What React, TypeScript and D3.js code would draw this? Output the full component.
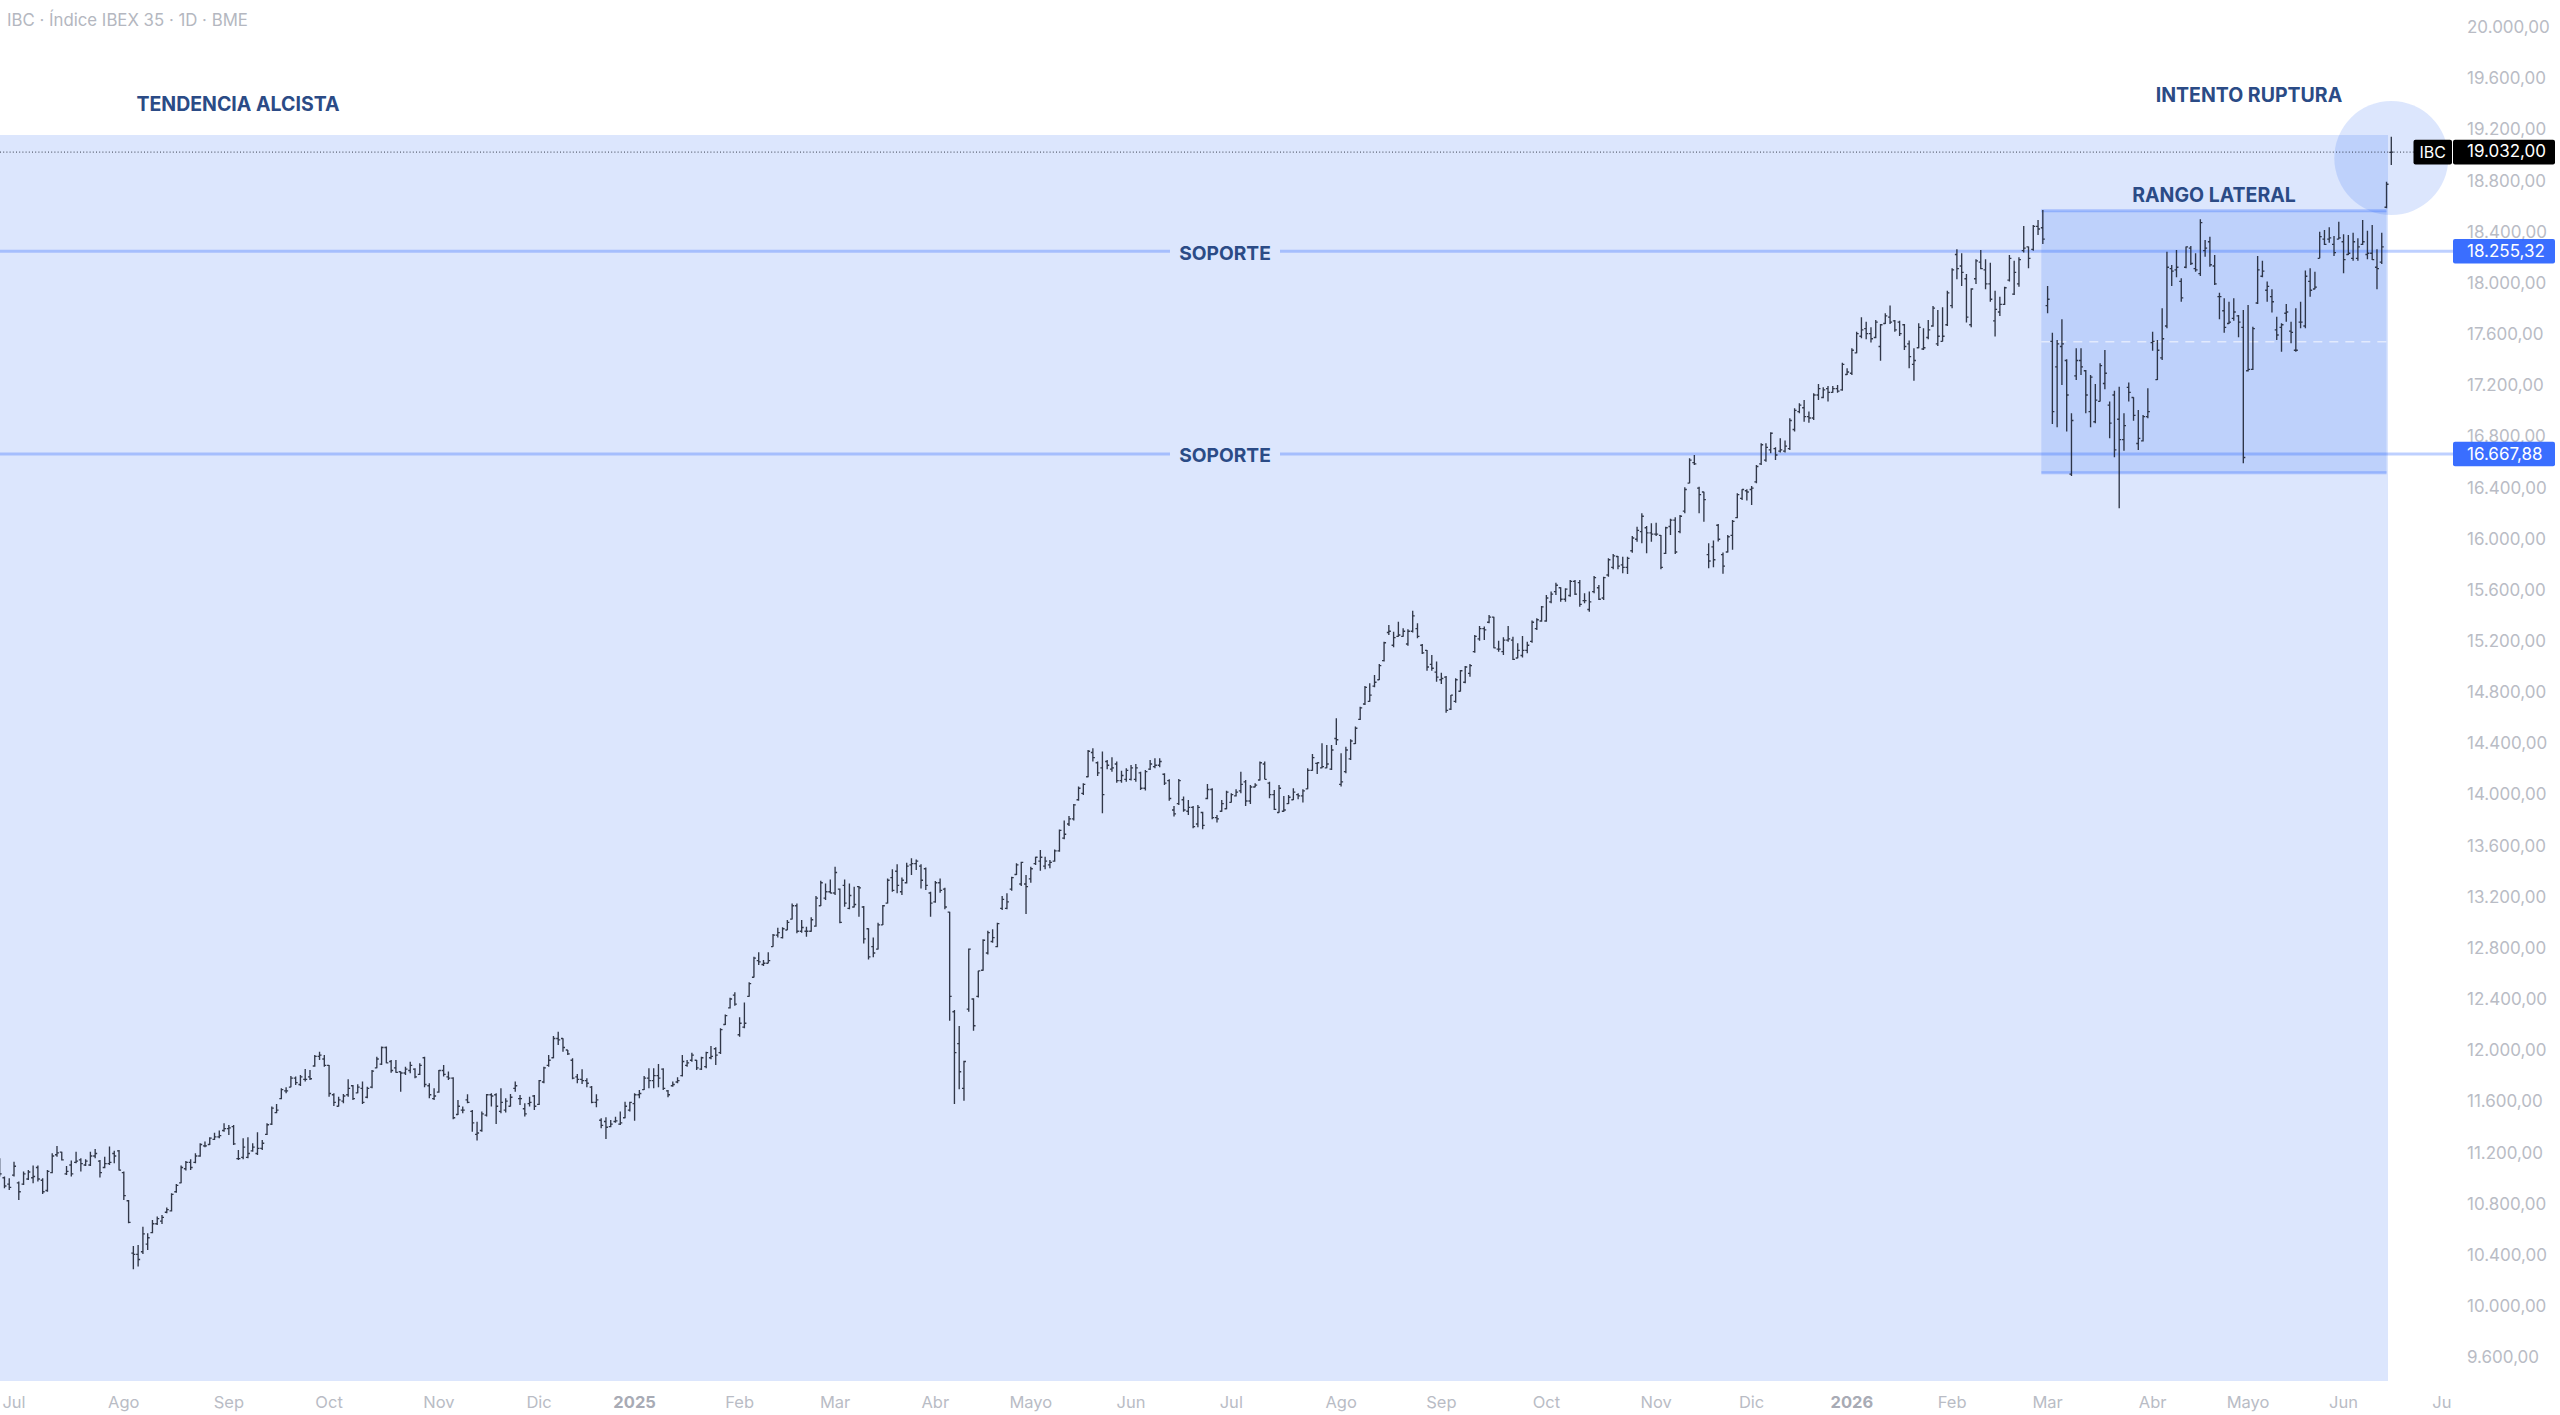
import * as d3 from "d3";

type Bar = number[]; // open, high, low, close

const jun24: Bar[] = [[11130,11152,11009,11030],[11000,11009,10917,10935],[10950,10996,10904,10925]];
const jul24: Bar[] = [
[11020,11126,11009,11090],[10960,10970,10826,10890],[10950,11048,10943,11030],[10990,11061,10983,11045],[11000,11095,10957,11010],[11080,11095,10970,10990],[10980,10996,10873,10890],[10900,11061,10891,11050],[11040,11191,11035,11170],[11180,11249,11165,11195],[11200,11204,11134,11140],[11030,11092,11022,11050],[11100,11134,11009,11030],[11120,11204,11113,11130],[11140,11152,11048,11110],[11100,11144,11092,11130],[11100,11204,11092,11170],[11170,11225,11152,11190],[11130,11139,11001,11040],[11080,11165,11074,11110],[11110,11244,11100,11120],[11190,11212,11113,11170],[11210,11217,11056,11060]];
const ago24: Bar[] = [
[11040,11048,10826,10860],[10820,10826,10643,10650],[10410,10466,10283,10400],[10400,10474,10304,10360],[10420,10617,10403,10560],[10480,10565,10434,10530],[10570,10669,10565,10640],[10640,10696,10630,10680],[10660,10709,10638,10690],[10730,10766,10722,10750],[10740,10878,10735,10870],[10890,10951,10883,10940],[10960,11095,10957,11080],[11070,11131,11056,11120],[11120,11144,11061,11080],[11120,11191,11113,11170],[11170,11270,11165,11260],[11250,11283,11238,11250],[11260,11317,11257,11310],[11300,11353,11296,11320],[11320,11369,11309,11330],[11370,11426,11361,11385]];
const sep24: Bar[] = [
[11385,11413,11335,11390],[11400,11413,11257,11265],[11150,11217,11139,11150],[11160,11309,11144,11240],[11160,11317,11152,11190],[11210,11270,11204,11240],[11190,11356,11178,11230],[11230,11296,11217,11270],[11340,11426,11335,11415],[11420,11557,11413,11545],[11510,11578,11505,11530],[11620,11700,11614,11690],[11680,11708,11661,11680],[11710,11797,11708,11780],[11780,11792,11726,11745],[11730,11805,11719,11790],[11770,11852,11753,11770],[11790,11844,11766,11775],[11875,11961,11870,11950],[11950,11987,11922,11960],[11930,11961,11870,11880]];
const oct24: Bar[] = [
[11880,11883,11635,11660],[11650,11661,11562,11590],[11560,11635,11557,11610],[11600,11656,11583,11640],[11650,11771,11635,11700],[11720,11726,11609,11620],[11665,11732,11661,11710],[11700,11753,11578,11590],[11630,11713,11622,11700],[11710,11844,11700,11835],[11860,11948,11857,11930],[11890,12027,11883,12020],[12020,12027,11896,11900],[11910,11922,11823,11840],[11860,11922,11823,11825],[11830,11831,11674,11820],[11820,11870,11805,11850],[11840,11909,11818,11880],[11850,11857,11779,11790],[11810,11896,11805,11880],[11940,11948,11708,11730],[11720,11740,11622,11650],[11620,11700,11609,11640]];
const nov24: Bar[] = [
[11670,11844,11666,11840],[11840,11883,11792,11810],[11790,11831,11766,11780],[11780,11786,11458,11470],[11495,11609,11492,11560],[11530,11557,11505,11530],[11610,11653,11583,11590],[11520,11531,11361,11430],[11340,11439,11291,11350],[11370,11518,11361,11500],[11490,11656,11479,11650],[11650,11661,11557,11640],[11650,11661,11421,11560],[11520,11700,11505,11590],[11530,11622,11510,11600],[11560,11656,11557,11630],[11700,11753,11674,11720],[11620,11648,11570,11620],[11540,11583,11479,11500],[11580,11635,11557,11590],[11640,11648,11531,11560]];
const dic24: Bar[] = [
[11575,11766,11570,11760],[11750,11870,11740,11860],[11880,11961,11870,11920],[11940,12110,11935,12090],[12090,12144,12040,12080],[12090,12092,11987,12020],[12000,12000,11961,11970],[11920,11935,11771,11780],[11790,11813,11740,11770],[11770,11849,11734,11760],[11760,11779,11708,11740],[11710,11719,11583,11590],[11590,11653,11552,11610],[11450,11465,11387,11410],[11440,11473,11304,11395],[11400,11452,11395,11420],[11440,11478,11431,11445],[11420,11518,11413,11430],[11470,11596,11465,11560],[11530,11596,11518,11590]];
const ene25: Bar[] = [
[11580,11661,11447,11650],[11650,11687,11622,11660],[11690,11797,11687,11780],[11780,11857,11700,11760],[11760,11857,11700,11800],[11800,11891,11708,11780],[11850,11857,11687,11700],[11680,11687,11630,11650],[11720,11753,11713,11730],[11750,11786,11740,11760],[11800,11961,11792,11910],[11880,11922,11870,11900],[11920,11979,11909,11960],[11920,11922,11844,11860],[11850,11948,11844,11940],[11870,11987,11857,11980],[11940,12031,11927,11950],[12010,12021,11883,11960],[11980,12170,11969,12160],[12200,12279,12196,12270],[12330,12410,12326,12400],[12430,12452,12347,12360]];
const feb25: Bar[] = [
[12120,12256,12104,12210],[12180,12373,12170,12210],[12420,12530,12418,12520],[12570,12731,12569,12720],[12700,12765,12666,12690],[12670,12705,12658,12680],[12680,12765,12679,12700],[12810,12908,12809,12900],[12900,12958,12882,12920],[12880,12961,12874,12950],[12940,13018,12940,13000],[13025,13148,13023,13130],[13130,13148,12914,12930],[12930,13018,12919,12960],[12930,12966,12887,12930],[12930,13039,12927,13020],[12970,13206,12966,13190],[13130,13326,13128,13310],[13190,13305,13175,13240],[13240,13336,13227,13230]];
const mar25: Bar[] = [
[13230,13436,13214,13390],[13260,13266,12992,13000],[13290,13336,13122,13150],[13110,13305,13102,13210],[13120,13279,13117,13140],[13280,13284,13044,13270],[13120,13128,12835,12870],[12950,12953,12710,12730],[12810,12882,12726,12760],[12790,12997,12788,12980],[12980,13135,12979,13130],[13150,13344,13148,13330],[13350,13415,13240,13250],[13400,13454,13227,13290],[13240,13352,13214,13330],[13310,13467,13305,13440],[13450,13501,13370,13460],[13460,13493,13410,13480],[13440,13454,13266,13330],[13420,13430,13253,13290],[13230,13240,13044,13150]];
const abr25: Bar[] = [
[13160,13323,13154,13310],[13310,13344,13232,13250],[13260,13271,13102,13120],[13080,13083,12230,12420],[12300,12313,11577,11980],[12050,12188,11692,11830],[11700,11917,11603,11910],[12320,12796,12300,12790],[12400,12405,12151,12190],[12420,12621,12412,12620],[12625,12867,12621,12860],[12760,12935,12749,12920],[12850,12945,12841,12880],[12810,12997,12804,12990],[13110,13206,13096,13180],[13110,13227,13102,13160],[13260,13357,13248,13350],[13375,13462,13370,13450],[13300,13475,13284,13470],[13300,13370,13065,13280]];
const may25: Bar[] = [
[13340,13436,13310,13420],[13460,13514,13449,13510],[13480,13566,13404,13510],[13440,13514,13415,13480],[13450,13488,13423,13470],[13480,13571,13475,13560],[13560,13728,13553,13720],[13660,13797,13650,13690],[13770,13833,13755,13810],[13810,13927,13797,13920],[13960,14063,13953,14050],[14010,14089,13998,14080],[14140,14350,14136,14340],[14330,14363,14259,14290],[14250,14259,14146,14170],[14210,14337,13854,14000],[14260,14272,14199,14230],[14200,14293,14180,14210],[14240,14259,14094,14110],[14110,14188,14094,14150],[14120,14206,14102,14190]];
const jun25: Bar[] = [
[14120,14232,14110,14210],[14120,14240,14102,14210],[14170,14180,14037,14050],[14050,14193,14032,14180],[14200,14272,14193,14240],[14220,14285,14206,14230],[14230,14285,14214,14260],[14160,14167,14076,14090],[14110,14120,13953,13970],[13880,13911,13828,13850],[13930,14123,13919,14110],[13960,13985,13867,13880],[13870,13958,13841,13900],[13900,13911,13737,13750],[13770,13919,13744,13900],[13860,13867,13729,13760],[13970,14084,13964,14040],[14040,14050,13807,13820],[13820,13841,13781,13810],[13870,13958,13867,13930],[13890,14031,13885,14020]];
const jul25: Bar[] = [
[13940,14011,13938,14000],[13990,14042,13985,14020],[14030,14180,14011,14080],[14100,14115,13911,13950],[13950,14076,13927,14060],[14060,14089,14058,14075],[14115,14259,14110,14250],[14240,14259,14120,14120],[14090,14102,13971,14000],[14000,14037,13880,13885],[13860,14076,13859,14050],[13870,13990,13867,13880],[13930,13998,13927,13980],[13960,14050,13958,14020],[14000,14011,13964,13990],[13990,14042,13938,14030],[14045,14206,14042,14190],[14190,14319,14188,14290],[14245,14251,14162,14250],[14210,14402,14206,14220],[14210,14389,14206,14240],[14200,14389,14193,14350],[14440,14598,14389,14430]];
const ago25: Bar[] = [
[14080,14324,14063,14100],[14180,14376,14167,14350],[14280,14433,14272,14420],[14400,14533,14397,14520],[14590,14689,14585,14680],[14710,14851,14702,14840],[14730,14872,14728,14780],[14850,14937,14841,14880],[14900,15023,14898,15010],[15050,15198,15042,15190],[15270,15329,15250,15280],[15170,15276,15154,15230],[15240,15355,15237,15250],[15240,15303,15237,15280],[15180,15295,15167,15280],[15280,15441,15269,15400],[15300,15342,15224,15240],[15170,15180,15102,15110],[15130,15133,14971,15000],[15020,15094,14971,14990],[14960,15042,14885,14920]];
const sep25: Bar[] = [
[14900,14955,14867,14910],[14920,14929,14642,14660],[14670,14781,14663,14780],[14730,14911,14720,14900],[14810,14976,14807,14970],[14880,15008,14872,15000],[14950,15023,14924,15010],[15120,15250,15112,15240],[15220,15321,15206,15300],[15300,15316,15211,15290],[15350,15407,15342,15390],[15390,15394,15146,15150],[15140,15206,15120,15140],[15120,15232,15094,15210],[15210,15321,15198,15220],[15210,15237,15055,15060],[15070,15185,15068,15130],[15090,15243,15075,15130],[15130,15198,15107,15170],[15200,15363,15190,15350],[15300,15381,15289,15370],[15360,15477,15355,15470]];
const oct25: Bar[] = [
[15360,15564,15355,15540],[15510,15590,15498,15570],[15590,15660,15564,15640],[15620,15624,15511,15530],[15530,15616,15511,15610],[15560,15681,15550,15670],[15670,15681,15564,15570],[15660,15681,15472,15490],[15520,15577,15498,15520],[15450,15590,15433,15510],[15590,15713,15577,15700],[15620,15642,15525,15530],[15540,15707,15525,15700],[15720,15851,15707,15840],[15780,15885,15765,15870],[15865,15869,15765,15790],[15800,15864,15733,15780],[15780,15864,15728,15850],[15910,16026,15895,16010],[16000,16099,15981,16070],[16060,16203,15968,16180],[16090,16104,15890,16050],[16050,16125,15981,16040]];
const nov25: Bar[] = [
[16040,16130,16026,16040],[16030,16033,15765,15780],[15890,16099,15885,16090],[16100,16161,16033,16150],[16150,16172,15885,15900],[16060,16190,16047,16180],[16220,16407,16203,16390],[16440,16634,16438,16620],[16600,16660,16582,16590],[16400,16412,16203,16350],[16370,16373,16138,16310],[15880,15969,15773,15830],[15940,15990,15781,15840],[16110,16120,15982,16000],[15880,15896,15729,15790],[15900,16034,15896,16020],[16030,16151,15917,16140],[16170,16360,16164,16350],[16320,16392,16308,16390],[16380,16392,16303,16370]];
const dic25: Bar[] = [
[16390,16418,16269,16400],[16450,16582,16439,16570],[16590,16752,16582,16740],[16620,16752,16608,16720],[16700,16838,16673,16830],[16710,16720,16621,16660],[16690,16791,16679,16700],[16690,16773,16679,16730],[16710,16947,16700,16930],[16860,17026,16843,17010],[17000,17065,16987,17050],[17030,17091,16921,16960],[16960,17000,16913,16950],[16950,17143,16934,17130],[17130,17216,17091,17180],[17110,17190,17104,17170],[17180,17201,17078,17150],[17150,17201,17148,17180],[17180,17208,17148,17160],[17170,17383,17164,17370],[17290,17339,17287,17310]];
const ene26: Bar[] = [
[17300,17496,17287,17480],[17460,17626,17456,17610],[17590,17738,17574,17640],[17650,17704,17566,17610],[17610,17660,17540,17570],[17580,17717,17574,17700],[17510,17686,17399,17680],[17690,17770,17686,17750],[17740,17830,17686,17700],[17710,17717,17626,17640],[17700,17712,17592,17610],[17680,17686,17483,17510],[17530,17556,17339,17430],[17370,17496,17242,17400],[17500,17691,17496,17660],[17490,17652,17483,17500],[17580,17717,17566,17640],[17670,17827,17665,17810],[17530,17796,17514,17590],[17550,17817,17548,17590],[17680,17947,17670,17930]];
const feb26: Bar[] = [
[17830,18122,17809,18110],[18230,18271,18036,18120],[18140,18239,17984,18090],[18040,18078,17697,17740],[17680,17965,17660,17960],[18040,18192,18000,18180],[18170,18266,18114,18120],[18110,18192,17958,18000],[18000,18166,17861,17880],[17710,17947,17587,17800],[17780,17900,17749,17840],[17840,17978,17835,17970],[18030,18226,18018,18200],[17920,18182,17913,18090],[18000,18208,17978,18190],[18260,18453,18245,18280],[18290,18292,18122,18200],[18270,18461,18260,18450],[18450,18500,18383,18430],[18440,18579,18312,18350]];
const mar26: Bar[] = [
[17830,17984,17770,17880],[17550,17618,16903,17000],[17350,17561,16877,17530],[17510,17723,17208,17530],[17400,17409,16843,17130],[16510,16987,16496,16930],[17280,17496,17248,17400],[17400,17496,17287,17350],[17320,17326,16987,17130],[17000,17287,16877,17270],[16920,17216,16908,17090],[17080,17378,17078,17360],[17220,17483,17175,17300],[17050,17078,16791,16910],[17130,17164,16642,16700],[16940,17195,16243,16780],[16780,16987,16694,16890],[17190,17227,17078,17150],[17110,17112,16929,16970],[16750,17013,16700,16790],[16770,16974,16765,16960],[16960,17182,16947,17000]];
const abr26: Bar[] = [
[17540,17626,17477,17550],[17250,17561,17248,17480],[17420,17809,17404,17570],[17670,18252,17652,18130],[18120,18148,17984,18100],[18110,18266,18052,18130],[18020,18044,17861,17890],[18130,18292,18122,18290],[18280,18297,18148,18160],[18120,18239,18096,18110],[18080,18506,18062,18480],[18260,18344,18213,18280],[18330,18370,18135,18150],[18140,18226,17991,18000],[17900,17931,17723,17900],[17790,17887,17618,17660],[17690,17861,17686,17700],[17730,17887,17712,17780],[17750,17757,17582,17700],[17660,17796,16595,16640]];
const may26: Bar[] = [
[17320,17835,17313,17330],[17330,17665,17326,17650],[17850,18219,17843,18110],[18060,18182,18052,18100],[17950,18018,17861,17980],[17900,17958,17775,17860],[17640,17743,17561,17600],[17660,17691,17469,17680],[17770,17843,17704,17780],[17630,17704,17535,17620],[17480,17809,17469,17480],[17700,17861,17652,17700],[17670,18104,17652,18060],[18020,18122,17900,17950],[17960,18096,17958,17975],[18200,18409,18200,18370],[18350,18422,18305,18310],[18350,18443,18323,18360],[18310,18375,18219,18245],[18350,18487,18349,18360]];
const jun26: Bar[] = [
[18330,18388,18083,18190],[18230,18383,18226,18240],[18200,18401,18182,18330],[18200,18357,18182,18290],[18310,18500,18305,18330],[18230,18417,18192,18240],[18240,18461,18187,18190],[18130,18271,17958,18120],[18170,18401,18156,18290],[18600,18800,18592,18780],[19030,19153,18931,19032]];

const months = [jul24, ago24, sep24, oct24, nov24, dic24, ene25, feb25, mar25, abr25, may25, jun25, jul25, ago25, sep25, oct25, nov25, dic25, ene26, feb26, mar26, abr26, may26, jun26];
const monthLabels = ["Jul", "Ago", "Sep", "Oct", "Nov", "Dic", "2025", "Feb", "Mar", "Abr", "Mayo", "Jun", "Jul", "Ago", "Sep", "Oct", "Nov", "Dic", "2026", "Feb", "Mar", "Abr", "Mayo", "Jun"];
const nextMonthLabel = "Jul";
const barsToNextMonth = 11;

const priceTicks = d3.range(9600, 20001, 400);
const lastPrice = 19032;
const supports = [18255.32, 16667.88];
const rangeTop = 18573;
const rangeBottom = 16521;
const rangeFirstBar = 428;
const rangeLastBar = 500;

const bars: Bar[] = [jun24, ...months].flat();
const monthStarts: number[] = [];
months.reduce((n, m) => {
  monthStarts.push(n);
  return n + m.length;
}, jun24.length);

const W = 2560;
const H = 1415;
const plotRight = 2388;
const plotTop = 135;
const plotBottom = 1381;
const axisLeft = 2453;
const FONT = "Inter, Roboto, sans-serif";
const NAVY = "#2b4b86";
const GREY = "#b9bcc5";
const BLUE = "#2962ff";
const FILL = "rgba(39,99,243,0.16)";
const LINE = "rgba(41,98,255,0.30)";

const fmt = (v: number) =>
  d3.format(",.2f")(v).replace(/,/g, "#").replace(".", ",").replace(/#/g, ".");

export default function App() {
  const x = d3.scaleLinear().domain([0, bars.length - 1]).range([-0.3, 2391.3]);
  const y = d3.scaleLinear().domain([9600, 20000]).range([1356.5, 28.5]);
  // labels on the price axis sit a touch off the lines
  const labelShift = d3.scaleLinear().domain([9600, 20000]).range([0.5, -1.5]);

  const rx0 = x(rangeFirstBar) - 1.5;
  const rx1 = x(rangeLastBar);
  const ry0 = y(rangeTop);
  const ry1 = y(rangeBottom);
  const midY = (ry0 + ry1) / 2;

  return (
    <svg width={W} height={H} style={{ position: "absolute", left: 0, top: 0, background: "#fff" }} fontFamily={FONT}>
      <defs>
        <clipPath id="time-clip">
          <rect x={0} y={plotBottom} width={2451} height={H - plotBottom} />
        </clipPath>
      </defs>

      <rect x={0} y={plotTop} width={plotRight} height={plotBottom - plotTop} fill={FILL} />
      <circle cx={x(bars.length - 1)} cy={158} r={57} fill={FILL} />

      {/* rango lateral */}
      <rect x={rx0} y={ry0} width={rx1 - rx0} height={ry1 - ry0} fill={FILL} />
      <line x1={rx0} x2={rx1} y1={ry0} y2={ry0} stroke={LINE} strokeWidth={3} />
      <line x1={rx0} x2={rx1} y1={ry1} y2={ry1} stroke={LINE} strokeWidth={3} />
      <line x1={rx0} x2={rx1} y1={midY} y2={midY} stroke="#fff" strokeOpacity={0.55} strokeWidth={1.4} strokeDasharray="9 7" />

      {/* soportes */}
      {supports.map((s) => (
        <g key={s}>
          <line x1={0} x2={1170} y1={y(s)} y2={y(s)} stroke={LINE} strokeWidth={3} />
          <line x1={1280} x2={axisLeft} y1={y(s)} y2={y(s)} stroke={LINE} strokeWidth={3} />
          <text x={1225} y={y(s) + 1.5} dy="0.36em" textAnchor="middle" fontSize={19.2} fontWeight={700} fill={NAVY}>SOPORTE</text>
        </g>
      ))}

      <line x1={0} x2={2414} y1={y(lastPrice)} y2={y(lastPrice)} stroke="#1b2030" strokeWidth={1} strokeDasharray="1 2.2" opacity={0.85} />

      {/* barras OHLC */}
      <g stroke="#1a2030" strokeWidth={1.35} fill="none" opacity={0.88}>
        {bars.map(([o, h, l, c], i) => (
          <path key={i} d={`M${x(i)},${y(h)}V${y(l)}M${x(i) - 2},${y(o)}H${x(i)}M${x(i)},${y(c)}H${x(i) + 2}`} />
        ))}
      </g>

      <text x={7} y={20} dy="0.36em" fontSize={16.8} fill="#b4b7c0">IBC · Índice IBEX 35 · 1D · BME</text>
      <text x={238} y={103.5} dy="0.36em" textAnchor="middle" fontSize={19.5} fontWeight={700} fill={NAVY}>TENDENCIA ALCISTA</text>
      <text x={2249} y={95} dy="0.36em" textAnchor="middle" fontSize={19.5} fontWeight={700} fill={NAVY}>INTENTO RUPTURA</text>
      <text x={2214} y={195} dy="0.36em" textAnchor="middle" fontSize={19.5} fontWeight={700} fill={NAVY}>RANGO LATERAL</text>

      {/* eje de precios */}
      {priceTicks.map((p) => (
        <text key={p} x={2467} y={y(p) + labelShift(p)} dy="0.36em" fontSize={17} fill={GREY}>{fmt(p)}</text>
      ))}
      {supports.map((s) => (
        <g key={s}>
          <rect x={axisLeft} y={y(s) - 12.3} width={102} height={24.6} rx={2} fill={BLUE} fillOpacity={0.92} />
          <text x={2467} y={y(s)} dy="0.36em" fontSize={17} fill="#fff">{fmt(s)}</text>
        </g>
      ))}
      <rect x={2413.5} y={y(lastPrice) - 12.3} width={38.5} height={24.6} rx={2} fill="#000" />
      <text x={2432.7} y={y(lastPrice)} dy="0.36em" textAnchor="middle" fontSize={16} fill="#fff">IBC</text>
      <rect x={axisLeft} y={y(lastPrice) - 12.3} width={102} height={24.6} rx={2} fill="#000" />
      <text x={2467} y={y(lastPrice) - 1} dy="0.36em" fontSize={17} fill="#fff">{fmt(lastPrice)}</text>

      {/* eje de tiempo */}
      <g clipPath="url(#time-clip)" fontSize={16.5} textAnchor="middle" fill={GREY}>
        {monthLabels.map((m, i) => (
          <text key={i} x={x(monthStarts[i])} y={1402} dy="0.36em" fontWeight={/^\d/.test(m) ? 700 : 400} fill={/^\d/.test(m) ? "#a8abb5" : GREY}>{m}</text>
        ))}
        <text x={x(bars.length - 1 + barsToNextMonth)} y={1402} dy="0.36em">{nextMonthLabel}</text>
      </g>
    </svg>
  );
}
